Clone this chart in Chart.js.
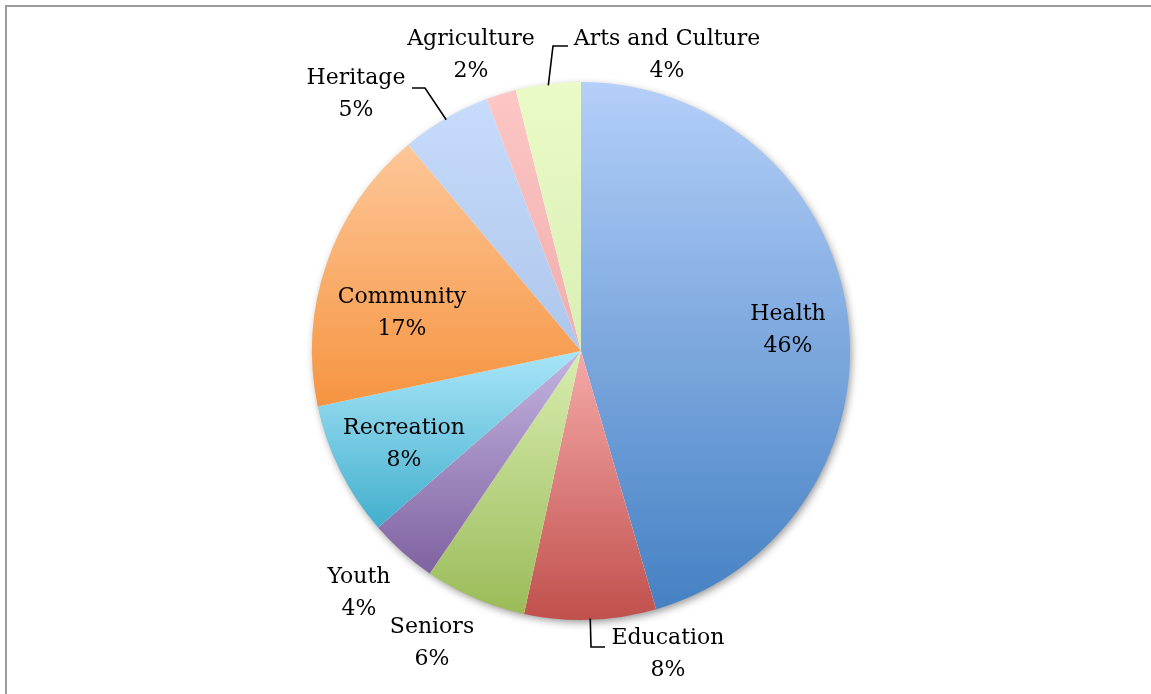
<!DOCTYPE html>
<html>
<head>
<meta charset="utf-8">
<script src="https://cdn.jsdelivr.net/npm/chart.js@4/dist/chart.umd.min.js"></script>
<style>
html,body{margin:0;padding:0;background:#fff;}
#wrap{position:relative;width:1151px;height:694px;}
</style>
</head>
<body>
<div id="wrap"><canvas id="c" width="1151" height="694"></canvas></div>
<script>
// ---- data ----
const categories = ['Health','Education','Seniors','Youth','Recreation','Community','Heritage','Agriculture','Arts and Culture'];
const shares = [45.5, 7.9, 6.1, 4.1, 8.1, 17.2, 5.4, 1.8, 3.9];
const percentLabels = ['46%','8%','6%','4%','8%','17%','5%','2%','4%'];

// ---- style ----
const gradTop = ['#b4cff9','#f5aaa8','#d8edb0','#c3b4e0','#a9e5f9','#fdc798','#c7dcfb','#fcc7c6','#ebfbc8'];
const gradBottom = ['#4581c3','#c0504d','#9bbb59','#7f62a1','#42afcc','#f69440','#aec6ec','#efadac','#d9eeb3'];
// label block centre offsets from the pie centre (px)
const labelOffsets = [[207,-21],[87,303],[-149,292],[-222,242],[-177,93],[-179,-38],[-225,-257],[-110,-296],[86,-296]];
// leader lines: [bend, end] offsets from the pie centre, or null
const leaders = [null,[[10,296],[24,296]],null,null,null,null,[[-156,-263],[-169,-263]],null,[[-28,-305],[-13,-305]]];

function geom(chart){
  const a = chart.chartArea;
  return {cx:(a.left+a.right)/2, cy:(a.top+a.bottom)/2, r:Math.min(a.right-a.left,a.bottom-a.top)/2};
}
function sliceAngles(i){
  const tot = shares.reduce((s,v)=>s+v,0);
  let c = 0; for(let k=0;k<i;k++) c+=shares[k];
  const a0 = -Math.PI/2 + c/tot*2*Math.PI;
  const a1 = a0 + shares[i]/tot*2*Math.PI;
  return [a0,a1];
}
function sliceYRange(i,g){
  const [a0,a1] = sliceAngles(i);
  const ys=[g.cy, g.cy+g.r*Math.sin(a0), g.cy+g.r*Math.sin(a1)];
  for(let k=-2;k<=4;k++){const ang=k*Math.PI/2; if(ang>a0&&ang<a1) ys.push(g.cy+g.r*Math.sin(ang));}
  return [Math.min(...ys), Math.max(...ys)];
}
function bg(ctx){
  const chart = ctx.chart; const i = ctx.dataIndex;
  if(!chart.chartArea || i===undefined) return gradBottom[i||0];
  const g = geom(chart);
  const [y0,y1] = sliceYRange(i,g);
  const gr = chart.ctx.createLinearGradient(0,y0,0,y1);
  gr.addColorStop(0,gradTop[i]); gr.addColorStop(1,gradBottom[i]);
  return gr;
}

const framePlugin = {
  id:'frame',
  beforeDraw(chart){
    const c = chart.ctx; c.save();
    c.strokeStyle='#9b9b9b'; c.lineWidth=2;
    c.beginPath(); c.moveTo(6,700); c.lineTo(6,6); c.lineTo(1160,6); c.stroke();
    c.restore();
  },
  beforeDatasetsDraw(chart){
    const g = geom(chart); const c = chart.ctx; c.save();
    c.shadowColor='rgba(0,0,0,0.45)'; c.shadowBlur=9; c.shadowOffsetX=2; c.shadowOffsetY=3;
    c.fillStyle='#ffffff'; c.beginPath(); c.arc(g.cx,g.cy,g.r-1,0,Math.PI*2); c.fill();
    c.restore();
  },
  afterDatasetsDraw(chart){
    const g = geom(chart); const c = chart.ctx; c.save();
    c.strokeStyle='#000'; c.lineWidth=1.6;
    leaders.forEach((ld,i)=>{
      if(!ld) return;
      const [a0,a1]=sliceAngles(i); const m=(a0+a1)/2;
      c.beginPath();
      c.moveTo(g.cx+g.r*0.995*Math.cos(m), g.cy+g.r*0.995*Math.sin(m));
      c.lineTo(g.cx+ld[0][0], g.cy+ld[0][1]);
      c.lineTo(g.cx+ld[1][0], g.cy+ld[1][1]);
      c.stroke();
    });
    c.fillStyle='#000'; c.font='22px "DejaVu Serif"'; c.textAlign='center'; c.textBaseline='middle';
    categories.forEach((name,i)=>{
      const x=g.cx+labelOffsets[i][0], y=g.cy+labelOffsets[i][1];
      c.fillText(name,x,y-16);
      c.fillText(percentLabels[i],x,y+16);
    });
    c.restore();
  }
};

new Chart(document.getElementById('c'),{
  type:'pie',
  data:{labels:categories,datasets:[{data:shares,backgroundColor:bg,borderWidth:0,hoverOffset:0,offset:0}]},
  options:{
    responsive:false, animation:false,
    layout:{padding:{left:312,right:301,top:82,bottom:74}},
    plugins:{legend:{display:false},tooltip:{enabled:false}},
    events:[]
  },
  plugins:[framePlugin]
});
</script>
</body>
</html>
